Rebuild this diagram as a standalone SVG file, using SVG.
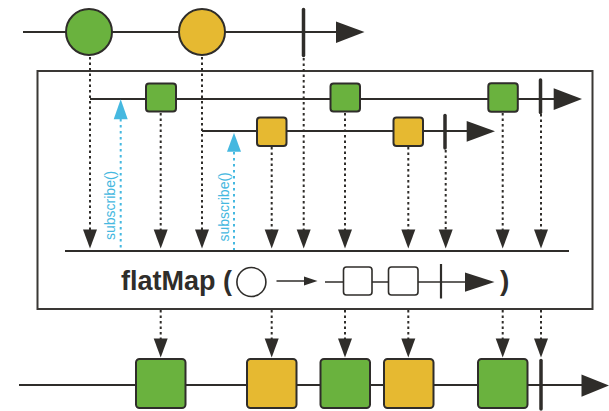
<svg xmlns="http://www.w3.org/2000/svg" xmlns:xlink="http://www.w3.org/1999/xlink" width="609" height="411" viewBox="0 0 609 411">
<style>
.line{stroke:#2f2d2a;stroke-width:2;fill:none}
.dash{stroke:#2f2d2a;stroke-width:2;stroke-dasharray:2.5 3;fill:none}
.blue{stroke:#45b8e0;stroke-width:2;stroke-dasharray:2.5 3.5;fill:none}
.term{stroke:#2f2d2a;stroke-width:3.5;stroke-linecap:round}
.head{fill:#2f2d2a}
.green{fill:#6ab23e;stroke:#2f2d2a;stroke-width:2}
.yellow{fill:#e6b931;stroke:#2f2d2a;stroke-width:2}
.mini{fill:#fff;stroke:#2f2d2a;stroke-width:1.6}
.sub{font-family:"Liberation Sans",Arial,sans-serif;font-size:14px;fill:#45b8e0}
.op{font-family:"Liberation Sans",Arial,sans-serif;font-size:28px;font-weight:bold;fill:#2f2d2a}
</style>
<defs>
<path id="ah" d="M-7,0 L7,0 L0,19 Z" class="head"/>
<path id="bh" d="M0,-7 L0,7 L-19,0 Z" fill="#45b8e0"/>
</defs>

<g id="source">
<line class="line" x1="23" y1="32" x2="338" y2="32"/>
<polygon class="head" points="336,21.5 364.5,32 336,43"/>
<circle id="src-green" class="green" cx="89" cy="32" r="23" stroke-width="2.5"/>
<circle id="src-yellow" class="yellow" cx="202" cy="32" r="23" stroke-width="2.5"/>
<line class="term" x1="303.5" y1="9.5" x2="303.5" y2="55.5" stroke-width="5"/>
</g>

<g id="operator">
<rect x="37.5" y="71" width="555" height="238" fill="none" stroke="#3a3835" stroke-width="2"/>
<line class="line" x1="65" y1="251" x2="569" y2="251"/>
<text class="op" x="121" y="290" textLength="111" lengthAdjust="spacingAndGlyphs">flatMap (</text>
<circle class="mini" cx="251.4" cy="282" r="14.5"/>
<line stroke="#2f2d2a" stroke-width="1.5" x1="276.5" y1="281" x2="308" y2="281"/>
<polygon class="head" points="304,276.5 317.5,281 304,285.5"/>
<line stroke="#2f2d2a" stroke-width="1.6" x1="325" y1="282" x2="467" y2="282"/>
<rect class="mini" x="343.5" y="267" width="28.5" height="28" rx="3"/>
<rect class="mini" x="388.5" y="267" width="29.5" height="28" rx="3"/>
<line stroke="#2f2d2a" stroke-width="2.2" x1="441" y1="264" x2="441" y2="298.5"/>
<polygon class="head" points="465,272.5 494.5,282 465,291.7"/>
<text class="op" x="500" y="290">)</text>
</g>

<g id="inner1">
<line class="line" x1="90" y1="99" x2="556" y2="99"/>
<polygon class="head" points="553.7,88.3 582,99 553.7,110"/>
<rect class="green" x="146" y="83.5" width="30" height="28" rx="3"/>
<rect class="green" x="330.5" y="83.5" width="29.5" height="28" rx="3"/>
<rect class="green" x="488.3" y="83.3" width="29.5" height="28.5" rx="3"/>
<line class="term" x1="540.5" y1="80" x2="540.5" y2="112.5"/>
</g>

<g id="inner2">
<line class="line" x1="202" y1="131" x2="469" y2="131"/>
<polygon class="head" points="466.7,121 495,131.3 466.7,141.7"/>
<rect class="yellow" x="257" y="117.5" width="29.5" height="28.5" rx="3"/>
<rect class="yellow" x="393.5" y="117.5" width="29.5" height="28.5" rx="3"/>
<line class="term" x1="445" y1="115.5" x2="445" y2="148"/>
</g>

<g id="result">
<line class="line" x1="19" y1="385" x2="584" y2="385"/>
<polygon class="head" points="581.5,374.5 609,385.5 581.5,396.7"/>
<rect class="green" x="136" y="359" width="49.5" height="49" rx="3.5"/>
<rect class="yellow" x="247" y="359" width="49.5" height="49" rx="3.5"/>
<rect class="green" x="320.5" y="359" width="49.5" height="49" rx="3.5"/>
<rect class="yellow" x="384" y="359" width="49.5" height="49" rx="3.5"/>
<rect class="green" x="478" y="359" width="49.5" height="49" rx="3.5"/>
<line class="term" x1="541" y1="360.5" x2="541" y2="409"/>
</g>

<g id="connectors">
<line class="dash" x1="90" y1="57" x2="90" y2="231"/>
<line class="dash" x1="202" y1="57" x2="202" y2="231"/>
<line class="dash" x1="303.7" y1="58" x2="303.7" y2="231"/>
<line class="dash" x1="160.7" y1="113" x2="160.7" y2="231"/>
<line class="dash" x1="271.7" y1="147" x2="271.7" y2="231"/>
<line class="dash" x1="345" y1="113" x2="345" y2="231"/>
<line class="dash" x1="408.3" y1="147" x2="408.3" y2="231"/>
<line class="dash" x1="445.7" y1="150" x2="445.7" y2="231"/>
<line class="dash" x1="502.7" y1="113" x2="502.7" y2="231"/>
<line class="dash" x1="541" y1="114" x2="541" y2="231"/>
<use xlink:href="#ah" x="90" y="229.5"/>
<use xlink:href="#ah" x="160.7" y="229.5"/>
<use xlink:href="#ah" x="202" y="229.5"/>
<use xlink:href="#ah" x="271.7" y="229.5"/>
<use xlink:href="#ah" x="303.7" y="229.5"/>
<use xlink:href="#ah" x="345" y="229.5"/>
<use xlink:href="#ah" x="408.3" y="229.5"/>
<use xlink:href="#ah" x="445.7" y="229.5"/>
<use xlink:href="#ah" x="502.7" y="229.5"/>
<use xlink:href="#ah" x="541" y="229.5"/>

<line class="blue" x1="120.7" y1="119" x2="120.7" y2="250"/>
<polygon fill="#45b8e0" points="120.7,99.3 127.7,119.3 113.7,119.3"/>
<line class="blue" x1="234" y1="152" x2="234" y2="250"/>
<polygon fill="#45b8e0" points="234,132.7 241,151.7 227,151.7"/>
<text class="sub" transform="translate(115,240) rotate(-90)">subscribe()</text>
<text class="sub" transform="translate(229,241.5) rotate(-90)">subscribe()</text>

<line class="dash" x1="160.7" y1="310" x2="160.7" y2="340"/>
<line class="dash" x1="271.7" y1="310" x2="271.7" y2="340"/>
<line class="dash" x1="345" y1="310" x2="345" y2="340"/>
<line class="dash" x1="408.3" y1="310" x2="408.3" y2="340"/>
<line class="dash" x1="502.7" y1="310" x2="502.7" y2="340"/>
<line class="dash" x1="541" y1="310" x2="541" y2="340"/>
<use xlink:href="#ah" x="160.7" y="338.5"/>
<use xlink:href="#ah" x="271.7" y="338.5"/>
<use xlink:href="#ah" x="345" y="338.5"/>
<use xlink:href="#ah" x="408.3" y="338.5"/>
<use xlink:href="#ah" x="502.7" y="338.5"/>
<use xlink:href="#ah" x="541" y="338.5"/>
</g>
</svg>
